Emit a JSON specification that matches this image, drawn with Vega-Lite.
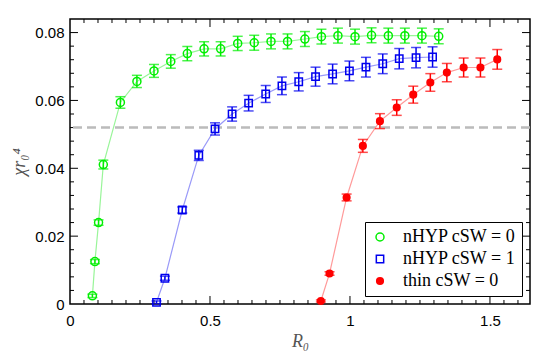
{
  "$schema": "https://vega.github.io/schema/vega-lite/v6.json",
  "width": 460,
  "height": 285,
  "autosize": {"type": "none"},
  "padding": {"left": 70, "top": 19, "right": 15, "bottom": 50},
  "config": {
    "view": {"stroke": "black", "strokeWidth": 1.5},
    "axis": {"domain": false, "grid": false, "ticks": false, "labelFlush": false, "labelFont": "Liberation Sans", "labelFontSize": 15, "labelColor": "black", "titleFont": "Liberation Serif", "titleFontStyle": "italic", "titleFontWeight": "normal", "titleFontSize": 18, "titleColor": "#555"},
    "legend": {"labelFontWeight": "normal"}
  },
  "datasets": {
    "pts": [
      {"s": "nHYP cSW = 0", "R": 0.080, "chi": 0.0024, "err": 0.0005},
      {"s": "nHYP cSW = 0", "R": 0.089, "chi": 0.0125, "err": 0.0006},
      {"s": "nHYP cSW = 0", "R": 0.102, "chi": 0.0240, "err": 0.0008},
      {"s": "nHYP cSW = 0", "R": 0.119, "chi": 0.0411, "err": 0.0013},
      {"s": "nHYP cSW = 0", "R": 0.180, "chi": 0.0594, "err": 0.0017},
      {"s": "nHYP cSW = 0", "R": 0.239, "chi": 0.0656, "err": 0.0018},
      {"s": "nHYP cSW = 0", "R": 0.300, "chi": 0.0687, "err": 0.0019},
      {"s": "nHYP cSW = 0", "R": 0.360, "chi": 0.0715, "err": 0.0020},
      {"s": "nHYP cSW = 0", "R": 0.419, "chi": 0.0738, "err": 0.0021},
      {"s": "nHYP cSW = 0", "R": 0.479, "chi": 0.0752, "err": 0.0021},
      {"s": "nHYP cSW = 0", "R": 0.538, "chi": 0.0752, "err": 0.0021},
      {"s": "nHYP cSW = 0", "R": 0.599, "chi": 0.0768, "err": 0.0021},
      {"s": "nHYP cSW = 0", "R": 0.658, "chi": 0.0770, "err": 0.0022},
      {"s": "nHYP cSW = 0", "R": 0.718, "chi": 0.0774, "err": 0.0022},
      {"s": "nHYP cSW = 0", "R": 0.777, "chi": 0.0774, "err": 0.0022},
      {"s": "nHYP cSW = 0", "R": 0.839, "chi": 0.0781, "err": 0.0022},
      {"s": "nHYP cSW = 0", "R": 0.898, "chi": 0.0788, "err": 0.0022},
      {"s": "nHYP cSW = 0", "R": 0.957, "chi": 0.0791, "err": 0.0022},
      {"s": "nHYP cSW = 0", "R": 1.018, "chi": 0.0788, "err": 0.0022},
      {"s": "nHYP cSW = 0", "R": 1.077, "chi": 0.0792, "err": 0.0022},
      {"s": "nHYP cSW = 0", "R": 1.137, "chi": 0.0791, "err": 0.0022},
      {"s": "nHYP cSW = 0", "R": 1.196, "chi": 0.0791, "err": 0.0022},
      {"s": "nHYP cSW = 0", "R": 1.257, "chi": 0.0791, "err": 0.0022},
      {"s": "nHYP cSW = 0", "R": 1.317, "chi": 0.0789, "err": 0.0022},
      {"s": "nHYP cSW = 1", "R": 0.309, "chi": 0.0005, "err": 0.0004},
      {"s": "nHYP cSW = 1", "R": 0.339, "chi": 0.0076, "err": 0.0006},
      {"s": "nHYP cSW = 1", "R": 0.401, "chi": 0.0277, "err": 0.0009},
      {"s": "nHYP cSW = 1", "R": 0.460, "chi": 0.0438, "err": 0.0015},
      {"s": "nHYP cSW = 1", "R": 0.518, "chi": 0.0516, "err": 0.0018},
      {"s": "nHYP cSW = 1", "R": 0.579, "chi": 0.0560, "err": 0.0021},
      {"s": "nHYP cSW = 1", "R": 0.638, "chi": 0.0592, "err": 0.0023},
      {"s": "nHYP cSW = 1", "R": 0.699, "chi": 0.0619, "err": 0.0025},
      {"s": "nHYP cSW = 1", "R": 0.757, "chi": 0.0643, "err": 0.0026},
      {"s": "nHYP cSW = 1", "R": 0.817, "chi": 0.0655, "err": 0.0027},
      {"s": "nHYP cSW = 1", "R": 0.877, "chi": 0.0670, "err": 0.0028},
      {"s": "nHYP cSW = 1", "R": 0.938, "chi": 0.0678, "err": 0.0029},
      {"s": "nHYP cSW = 1", "R": 0.998, "chi": 0.0687, "err": 0.0029},
      {"s": "nHYP cSW = 1", "R": 1.057, "chi": 0.0698, "err": 0.0029},
      {"s": "nHYP cSW = 1", "R": 1.117, "chi": 0.0708, "err": 0.0029},
      {"s": "nHYP cSW = 1", "R": 1.176, "chi": 0.0723, "err": 0.0030},
      {"s": "nHYP cSW = 1", "R": 1.236, "chi": 0.0726, "err": 0.0030},
      {"s": "nHYP cSW = 1", "R": 1.295, "chi": 0.0728, "err": 0.0030},
      {"s": "thin cSW = 0", "R": 0.896, "chi": 0.0009, "err": 0.0003},
      {"s": "thin cSW = 0", "R": 0.927, "chi": 0.0090, "err": 0.0005},
      {"s": "thin cSW = 0", "R": 0.988, "chi": 0.0314, "err": 0.0010},
      {"s": "thin cSW = 0", "R": 1.046, "chi": 0.0466, "err": 0.0019},
      {"s": "thin cSW = 0", "R": 1.107, "chi": 0.0539, "err": 0.0022},
      {"s": "thin cSW = 0", "R": 1.167, "chi": 0.0579, "err": 0.0023},
      {"s": "thin cSW = 0", "R": 1.226, "chi": 0.0617, "err": 0.0025},
      {"s": "thin cSW = 0", "R": 1.287, "chi": 0.0653, "err": 0.0026},
      {"s": "thin cSW = 0", "R": 1.346, "chi": 0.0682, "err": 0.0027},
      {"s": "thin cSW = 0", "R": 1.406, "chi": 0.0697, "err": 0.0028},
      {"s": "thin cSW = 0", "R": 1.466, "chi": 0.0697, "err": 0.0028},
      {"s": "thin cSW = 0", "R": 1.526, "chi": 0.0721, "err": 0.0029}
    ],
    "ref": [{"level": 0.052}],
    "xmaj": [{"v": 0.5}, {"v": 1}, {"v": 1.5}],
    "xmin": [{"v": 0.1},{"v": 0.2},{"v": 0.3},{"v": 0.4},{"v": 0.6},{"v": 0.7},{"v": 0.8},{"v": 0.9},{"v": 1.1},{"v": 1.2},{"v": 1.3},{"v": 1.4},{"v": 1.6},{"v": 0.05},{"v": 0.15},{"v": 0.25},{"v": 0.35},{"v": 0.45},{"v": 0.55},{"v": 0.65},{"v": 0.75},{"v": 0.85},{"v": 0.95},{"v": 1.05},{"v": 1.15},{"v": 1.25},{"v": 1.35},{"v": 1.45},{"v": 1.55}],
    "ymaj": [{"v": 0.02}, {"v": 0.04}, {"v": 0.06}, {"v": 0.08}],
    "ymin": [{"v": 0.004},{"v": 0.008},{"v": 0.012},{"v": 0.016},{"v": 0.024},{"v": 0.028},{"v": 0.032},{"v": 0.036},{"v": 0.044},{"v": 0.048},{"v": 0.052},{"v": 0.056},{"v": 0.064},{"v": 0.068},{"v": 0.072},{"v": 0.076}]
  },
  "layer": [
    {"data": {"name": "xmaj"}, "mark": {"type": "rule", "color": "black", "strokeWidth": 1},
      "encoding": {
        "x": {"field": "v", "type": "quantitative", "scale": {"domain": [0, 1.643], "nice": false, "zero": false}, "axis": {"orient": "bottom", "values": [0, 0.5, 1, 1.5], "labelPadding": 9, "format": "~g", "title": "R₀", "titlePadding": 4}},
        "y": {"datum": 0, "type": "quantitative", "scale": {"domain": [0, 0.084], "nice": false, "zero": false}, "axis": {"orient": "left", "values": [0, 0.02, 0.04, 0.06, 0.08], "labelPadding": 6, "format": "~g", "title": "χr₀⁴", "titlePadding": 6}},
        "y2": {"datum": 0.00236}}},
    {"data": {"name": "xmaj"}, "mark": {"type": "rule", "color": "black", "strokeWidth": 1},
      "encoding": {
        "x": {"field": "v", "type": "quantitative", "scale": {"domain": [0, 1.643], "nice": false, "zero": false}, "axis": {"orient": "bottom", "values": [0, 0.5, 1, 1.5], "labelPadding": 9, "format": "~g", "title": "R₀", "titlePadding": 4}},
        "y": {"datum": 0.084, "type": "quantitative", "scale": {"domain": [0, 0.084], "nice": false, "zero": false}, "axis": {"orient": "left", "values": [0, 0.02, 0.04, 0.06, 0.08], "labelPadding": 6, "format": "~g", "title": "χr₀⁴", "titlePadding": 6}},
        "y2": {"datum": 0.08164}}},
    {"data": {"name": "xmin"}, "mark": {"type": "rule", "color": "black", "strokeWidth": 1},
      "encoding": {
        "x": {"field": "v", "type": "quantitative", "scale": {"domain": [0, 1.643], "nice": false, "zero": false}, "axis": {"orient": "bottom", "values": [0, 0.5, 1, 1.5], "labelPadding": 9, "format": "~g", "title": "R₀", "titlePadding": 4}},
        "y": {"datum": 0, "type": "quantitative", "scale": {"domain": [0, 0.084], "nice": false, "zero": false}, "axis": {"orient": "left", "values": [0, 0.02, 0.04, 0.06, 0.08], "labelPadding": 6, "format": "~g", "title": "χr₀⁴", "titlePadding": 6}},
        "y2": {"datum": 0.00118}}},
    {"data": {"name": "xmin"}, "mark": {"type": "rule", "color": "black", "strokeWidth": 1},
      "encoding": {
        "x": {"field": "v", "type": "quantitative", "scale": {"domain": [0, 1.643], "nice": false, "zero": false}, "axis": {"orient": "bottom", "values": [0, 0.5, 1, 1.5], "labelPadding": 9, "format": "~g", "title": "R₀", "titlePadding": 4}},
        "y": {"datum": 0.084, "type": "quantitative", "scale": {"domain": [0, 0.084], "nice": false, "zero": false}, "axis": {"orient": "left", "values": [0, 0.02, 0.04, 0.06, 0.08], "labelPadding": 6, "format": "~g", "title": "χr₀⁴", "titlePadding": 6}},
        "y2": {"datum": 0.08282}}},
    {"data": {"name": "ymaj"}, "mark": {"type": "rule", "color": "black", "strokeWidth": 1},
      "encoding": {
        "y": {"field": "v", "type": "quantitative", "scale": {"domain": [0, 0.084], "nice": false, "zero": false}, "axis": {"orient": "left", "values": [0, 0.02, 0.04, 0.06, 0.08], "labelPadding": 6, "format": "~g", "title": "χr₀⁴", "titlePadding": 6}},
        "x": {"datum": 0, "type": "quantitative", "scale": {"domain": [0, 1.643], "nice": false, "zero": false}, "axis": {"orient": "bottom", "values": [0, 0.5, 1, 1.5], "labelPadding": 9, "format": "~g", "title": "R₀", "titlePadding": 4}},
        "x2": {"datum": 0.02857}}},
    {"data": {"name": "ymaj"}, "mark": {"type": "rule", "color": "black", "strokeWidth": 1},
      "encoding": {
        "y": {"field": "v", "type": "quantitative", "scale": {"domain": [0, 0.084], "nice": false, "zero": false}, "axis": {"orient": "left", "values": [0, 0.02, 0.04, 0.06, 0.08], "labelPadding": 6, "format": "~g", "title": "χr₀⁴", "titlePadding": 6}},
        "x": {"datum": 1.643, "type": "quantitative", "scale": {"domain": [0, 1.643], "nice": false, "zero": false}, "axis": {"orient": "bottom", "values": [0, 0.5, 1, 1.5], "labelPadding": 9, "format": "~g", "title": "R₀", "titlePadding": 4}},
        "x2": {"datum": 1.61443}}},
    {"data": {"name": "ymin"}, "mark": {"type": "rule", "color": "black", "strokeWidth": 1},
      "encoding": {
        "y": {"field": "v", "type": "quantitative", "scale": {"domain": [0, 0.084], "nice": false, "zero": false}, "axis": {"orient": "left", "values": [0, 0.02, 0.04, 0.06, 0.08], "labelPadding": 6, "format": "~g", "title": "χr₀⁴", "titlePadding": 6}},
        "x": {"datum": 0, "type": "quantitative", "scale": {"domain": [0, 1.643], "nice": false, "zero": false}, "axis": {"orient": "bottom", "values": [0, 0.5, 1, 1.5], "labelPadding": 9, "format": "~g", "title": "R₀", "titlePadding": 4}},
        "x2": {"datum": 0.01429}}},
    {"data": {"name": "ymin"}, "mark": {"type": "rule", "color": "black", "strokeWidth": 1},
      "encoding": {
        "y": {"field": "v", "type": "quantitative", "scale": {"domain": [0, 0.084], "nice": false, "zero": false}, "axis": {"orient": "left", "values": [0, 0.02, 0.04, 0.06, 0.08], "labelPadding": 6, "format": "~g", "title": "χr₀⁴", "titlePadding": 6}},
        "x": {"datum": 1.643, "type": "quantitative", "scale": {"domain": [0, 1.643], "nice": false, "zero": false}, "axis": {"orient": "bottom", "values": [0, 0.5, 1, 1.5], "labelPadding": 9, "format": "~g", "title": "R₀", "titlePadding": 4}},
        "x2": {"datum": 1.62871}}},
    {
      "data": {"name": "ref"},
      "mark": {"type": "rule", "color": "#bbbbbb", "strokeWidth": 2.5, "strokeDash": [9, 5]},
      "encoding": {
        "y": {"field": "level", "type": "quantitative", "scale": {"domain": [0, 0.084], "nice": false, "zero": false}, "axis": {"orient": "left", "values": [0, 0.02, 0.04, 0.06, 0.08], "labelPadding": 6, "format": "~g", "title": "χr₀⁴", "titlePadding": 6}}
      }
    },
    {
      "data": {"name": "pts"},
      "mark": {"type": "line", "strokeWidth": 1.2, "clip": true},
      "encoding": {
        "x": {"field": "R", "type": "quantitative", "scale": {"domain": [0, 1.643], "nice": false, "zero": false}, "axis": {"orient": "bottom", "values": [0, 0.5, 1, 1.5], "labelPadding": 9, "format": "~g", "title": "R₀", "titlePadding": 4}},
        "y": {"field": "chi", "type": "quantitative", "scale": {"domain": [0, 0.084], "nice": false, "zero": false}, "axis": {"orient": "left", "values": [0, 0.02, 0.04, 0.06, 0.08], "labelPadding": 6, "format": "~g", "title": "χr₀⁴", "titlePadding": 6}},
        "color": {"field": "s", "type": "nominal", "scale": {"domain": ["nHYP cSW = 0", "nHYP cSW = 1", "thin cSW = 0"], "range": ["#99f599", "#9a9af8", "#ff9a9a"]}, "legend": null},
        "order": {"field": "R", "type": "quantitative"}
      }
    },
    {
      "data": {"name": "pts"},
      "mark": {"type": "errorbar", "ticks": {"size": 10, "thickness": 1.5}, "thickness": 1.5},
      "encoding": {
        "x": {"field": "R", "type": "quantitative", "scale": {"domain": [0, 1.643], "nice": false, "zero": false}, "axis": {"orient": "bottom", "values": [0, 0.5, 1, 1.5], "labelPadding": 9, "format": "~g", "title": "R₀", "titlePadding": 4}},
        "y": {"field": "chi", "type": "quantitative", "scale": {"domain": [0, 0.084], "nice": false, "zero": false}, "axis": {"orient": "left", "values": [0, 0.02, 0.04, 0.06, 0.08], "labelPadding": 6, "format": "~g", "title": "χr₀⁴", "titlePadding": 6}},
        "yError": {"field": "err"},
        "color": {"field": "s", "type": "nominal", "scale": {"domain": ["nHYP cSW = 0", "nHYP cSW = 1", "thin cSW = 0"], "range": ["#00ee00", "#0000ee", "#ff0000"]}, "legend": null}
      }
    },
    {
      "data": {"name": "pts"},
      "mark": {"type": "point", "strokeWidth": 1.5, "opacity": 1},
      "encoding": {
        "x": {"field": "R", "type": "quantitative", "scale": {"domain": [0, 1.643], "nice": false, "zero": false}, "axis": {"orient": "bottom", "values": [0, 0.5, 1, 1.5], "labelPadding": 9, "format": "~g", "title": "R₀", "titlePadding": 4}},
        "y": {"field": "chi", "type": "quantitative", "scale": {"domain": [0, 0.084], "nice": false, "zero": false}, "axis": {"orient": "left", "values": [0, 0.02, 0.04, 0.06, 0.08], "labelPadding": 6, "format": "~g", "title": "χr₀⁴", "titlePadding": 6}},
        "stroke": {"field": "s", "type": "nominal", "scale": {"domain": ["nHYP cSW = 0", "nHYP cSW = 1", "thin cSW = 0"], "range": ["#00ee00", "#0000ee", "#ff0000"]},
          "legend": {"title": null, "orient": "bottom-right", "offset": 8, "strokeColor": "black", "fillColor": "white", "padding": 6, "labelFont": "Liberation Serif", "labelFontSize": 18, "labelFontWeight": "normal", "labelColor": "black", "rowPadding": 4, "symbolStrokeWidth": 1.5, "labelOffset": 14}},
        "fill": {"field": "s", "type": "nominal", "scale": {"domain": ["nHYP cSW = 0", "nHYP cSW = 1", "thin cSW = 0"], "range": ["transparent", "transparent", "#ff0000"]}},
        "shape": {"field": "s", "type": "nominal", "scale": {"domain": ["nHYP cSW = 0", "nHYP cSW = 1", "thin cSW = 0"], "range": ["circle", "square", "circle"]}},
        "size": {"field": "s", "type": "nominal", "scale": {"domain": ["nHYP cSW = 0", "nHYP cSW = 1", "thin cSW = 0"], "range": [64, 44, 120]}}
      }
    }
  ],
  "resolve": {"scale": {"color": "independent"}}
}
